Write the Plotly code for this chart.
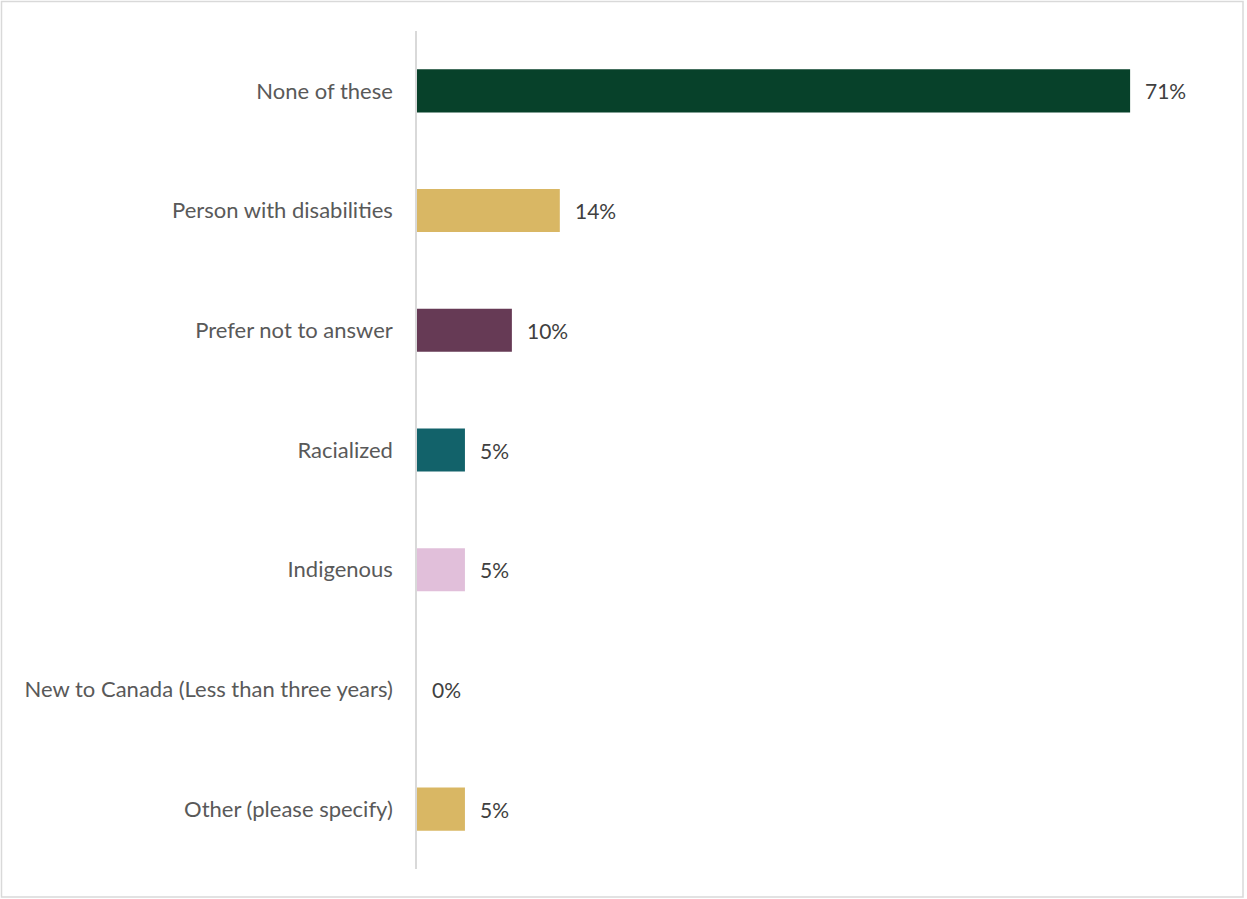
import plotly.graph_objects as go

categories = [
    "None of these",
    "Person with disabilities",
    "Prefer not to answer",
    "Racialized",
    "Indigenous",
    "New to Canada (Less than three years)",
    "Other (please specify)",
]
values = [71.4, 14.3, 9.5, 4.8, 4.8, 0.0, 4.8]
labels = ["71%", "14%", "10%", "5%", "5%", "0%", "5%"]
colors = ["#07412A", "#D9B764", "#663A55", "#12626A", "#E1BFDA", "#D9B764", "#D9B764"]

W, H = 1247, 899
L, R, T, B = 417, 31, 31, 30
FONT = "Lato"
fig = go.Figure()
fig.add_trace(go.Bar(
    y=categories, x=values, orientation="h",
    marker=dict(color=colors, line=dict(width=0)),
    hoverinfo="skip",
))
for c, v, t in zip(categories, values, labels):
    fig.add_annotation(x=v, y=c, text=t, showarrow=False, xanchor="left",
                       xshift=13, font=dict(family=FONT, size=21, color="#404040"))

pw, ph = W - L - R, H - T - B
fig.update_layout(
    width=W, height=H,
    margin=dict(l=L, r=R, t=T, b=B),
    paper_bgcolor="white", plot_bgcolor="white",
    bargap=0.64,
    showlegend=False,
    font=dict(family=FONT, size=22, color="#595959"),
    xaxis=dict(range=[0, 80], visible=False, fixedrange=True),
    yaxis=dict(autorange="reversed", showgrid=False, ticks="", ticklabelstandoff=18,
               showline=True, linecolor="#D9D9D9", linewidth=1.5, fixedrange=True,
               tickfont=dict(family=FONT, size=22, color="#595959")),
    shapes=[dict(type="rect", xref="paper", yref="paper",
                 x0=-(L - 1.5) / pw, x1=1 + (R - 4) / pw,
                 y0=-(B - 2) / ph, y1=1 + (T - 1.5) / ph,
                 line=dict(color="#D9D9D9", width=1.5), layer="below")],
)
fig.write_html("out.html", config={"displayModeBar": False},
               post_script="document.body.style.margin='0';document.body.style.padding='0';")
